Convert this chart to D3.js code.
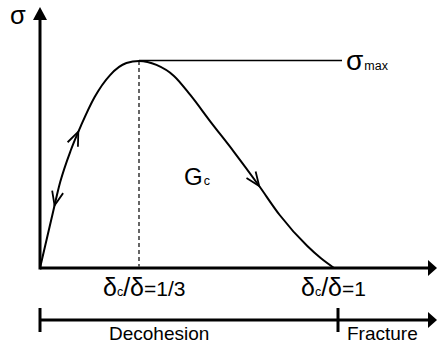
<!DOCTYPE html>
<html>
<head>
<meta charset="utf-8">
<script src="https://cdn.jsdelivr.net/npm/d3@7"></script>
<style>
  html, body { margin: 0; padding: 0; background: #fff; }
  svg { display: block; }
  text { font-family: "Liberation Sans", Arial, sans-serif; fill: #000; }
</style>
</head>
<body>
<svg id="chart" width="437" height="346"></svg>
<script>
// Normalised opening (δ) and traction (σ/σmax) along the cohesive law
const delta  = [0, 0.039, 0.068, 0.104, 0.139, 0.184, 0.236, 0.291, 1/3,
                0.392, 0.451, 0.506, 0.575, 0.651, 0.738, 0.807, 0.900, 0.945, 0.99];
const stress = [0, 0.24, 0.415, 0.57, 0.691, 0.826, 0.932, 0.99, 1,
                0.981, 0.928, 0.836, 0.705, 0.565, 0.396, 0.256, 0.106, 0.048, 0];

// Tick positions on the opening axis and their labels
const tickValues = [1/3, 1];
const tickLabels = ["1/3", "1"];

// Loading / unloading direction markers along the curve (position, direction)
const arrowAt  = [0.129, 0.049, 0.738];
const arrowDir = [1, -1, 1];

// Stage bar
const stageBreaks = [0, 1];
const stageNames  = ["Decohesion", "Fracture"];

const svg = d3.select("#chart");

const x = d3.scaleLinear().domain([0, 1]).range([40, 337]);
const y = d3.scaleLinear().domain([0, 1]).range([268, 61]);

const axisEndX = 437, axisTopY = 7;

// filled triangular arrow head
function triangle(tipX, tipY, dx, dy, len, half) {
  const bx = tipX - dx * len, by = tipY - dy * len;
  const nx = -dy, ny = dx;
  return `M${tipX},${tipY}L${bx + nx * half},${by + ny * half}L${bx - nx * half},${by - ny * half}Z`;
}

// Axes
svg.append("line")
  .attr("x1", x(0)).attr("y1", y(0)).attr("x2", axisEndX - 6).attr("y2", y(0))
  .attr("stroke", "#000").attr("stroke-width", 3);
svg.append("path").attr("d", triangle(axisEndX, y(0), 1, 0, 9, 8)).attr("fill", "#000");

svg.append("line")
  .attr("x1", x(0)).attr("y1", y(0) + 1.5).attr("x2", x(0)).attr("y2", axisTopY + 8)
  .attr("stroke", "#000").attr("stroke-width", 3);
svg.append("path").attr("d", triangle(x(0), axisTopY, 0, -1, 13, 7)).attr("fill", "#000");

// σmax reference line and dashed drop line at the peak
const peakIdx = d3.maxIndex(stress);
svg.append("line")
  .attr("x1", x(delta[peakIdx])).attr("y1", y(stress[peakIdx]) - 0.5)
  .attr("x2", 342).attr("y2", y(stress[peakIdx]) - 0.5)
  .attr("stroke", "#000").attr("stroke-width", 1.3);
svg.append("line")
  .attr("x1", x(tickValues[0])).attr("y1", y(stress[peakIdx]))
  .attr("x2", x(tickValues[0])).attr("y2", y(0) - 1.5)
  .attr("stroke", "#000").attr("stroke-width", 1.2)
  .attr("stroke-dasharray", "4,3");

// Traction-separation curve
const line = d3.line()
  .x((d, i) => x(delta[i]))
  .y((d, i) => y(stress[i]))
  .curve(d3.curveMonotoneX);

const curve = svg.append("path")
  .datum(delta)
  .attr("d", line)
  .attr("fill", "none")
  .attr("stroke", "#000")
  .attr("stroke-width", 2);

// Open chevrons along the curve
const node = curve.node();
const total = node.getTotalLength();
function lengthAtX(px) {
  let lo = 0, hi = total;
  for (let k = 0; k < 40; k++) {
    const mid = (lo + hi) / 2;
    if (node.getPointAtLength(mid).x < px) lo = mid; else hi = mid;
  }
  return (lo + hi) / 2;
}
arrowAt.forEach((d, i) => {
  const L = lengthAtX(x(d));
  const p = node.getPointAtLength(L);
  const a = node.getPointAtLength(Math.max(0, L - 1));
  const b = node.getPointAtLength(Math.min(total, L + 1));
  let dx = (b.x - a.x) * arrowDir[i], dy = (b.y - a.y) * arrowDir[i];
  const n = Math.hypot(dx, dy); dx /= n; dy /= n;
  const len = 15, ang = 22 * Math.PI / 180;
  // rotate the backward direction by ±ang
  const bx = -dx, by = -dy;
  const w1 = [p.x + len * (bx * Math.cos(ang) - by * Math.sin(ang)), p.y + len * (bx * Math.sin(ang) + by * Math.cos(ang))];
  const w2 = [p.x + len * (bx * Math.cos(-ang) - by * Math.sin(-ang)), p.y + len * (bx * Math.sin(-ang) + by * Math.cos(-ang))];
  svg.append("path")
    .attr("d", `M${w1[0]},${w1[1]}L${p.x},${p.y}L${w2[0]},${w2[1]}`)
    .attr("fill", "none").attr("stroke", "#000").attr("stroke-width", 1.8)
    .attr("stroke-linejoin", "miter");
});

// Axis symbol σ
svg.append("text").attr("x", 10).attr("y", 23.5).attr("font-size", 25.5).text("σ");

// σmax label
const smax = svg.append("text").attr("x", 346).attr("y", 70);
smax.append("tspan").attr("font-size", 28).text("σ");
smax.append("tspan").attr("font-size", 12.5).attr("dx", 1).text("max");

// Gc label
const gc = svg.append("text").attr("x", 184).attr("y", 185);
gc.append("tspan").attr("font-size", 24).text("G");
gc.append("tspan").attr("font-size", 12.5).attr("dx", 1).text("c");

// Opening-axis tick labels δc/δ = ...
tickValues.forEach((v, i) => {
  const t = svg.append("text").attr("x", x(v) - 36).attr("y", 296);
  t.append("tspan").attr("font-size", 25).text("δ");
  t.append("tspan").attr("font-size", 12.5).text("c");
  t.append("tspan").attr("font-size", 25).text("/δ");
  t.append("tspan").attr("font-size", 21).text("=" + tickLabels[i]);
});

// Stage bar: Decohesion | Fracture
const barY = 320;
svg.append("line")
  .attr("x1", x(stageBreaks[0])).attr("y1", barY).attr("x2", axisEndX - 6).attr("y2", barY)
  .attr("stroke", "#000").attr("stroke-width", 3);
svg.append("path").attr("d", triangle(axisEndX, barY, 1, 0, 9, 8)).attr("fill", "#000");
svg.selectAll(".stageTick")
  .data(stageBreaks)
  .join("line")
  .attr("class", "stageTick")
  .attr("x1", d => x(d) + (d === 1 ? 1 : 0)).attr("x2", d => x(d) + (d === 1 ? 1 : 0))
  .attr("y1", 308).attr("y2", 332)
  .attr("stroke", "#000").attr("stroke-width", 3);

svg.append("text").attr("x", 109).attr("y", 340).attr("font-size", 19).text(stageNames[0]);
svg.append("text").attr("x", 347).attr("y", 340).attr("font-size", 19).text(stageNames[1]);
</script>
</body>
</html>
